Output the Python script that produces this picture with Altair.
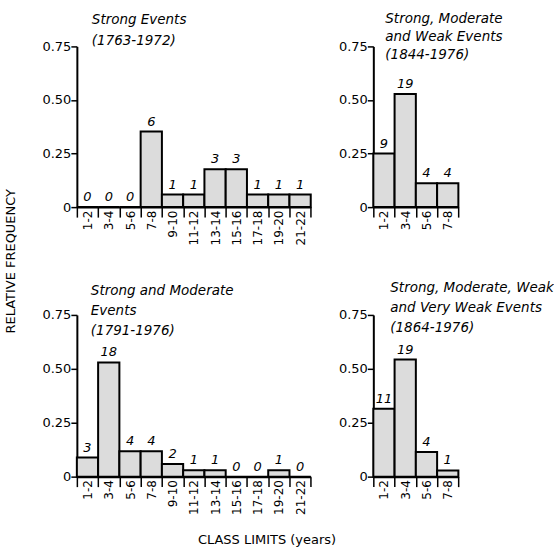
import altair as alt
import pandas as pd

# ---- data ----
classes_long = ["1-2", "3-4", "5-6", "7-8", "9-10", "11-12", "13-14",
                "15-16", "17-18", "19-20", "21-22"]
classes_short = ["1-2", "3-4", "5-6", "7-8"]

strong_counts = [0, 0, 0, 6, 1, 1, 3, 3, 1, 1, 1]
smw_counts = [9, 19, 4, 4]
sm_counts = [3, 18, 4, 4, 2, 1, 1, 0, 0, 1, 0]
smwv_counts = [11, 19, 4, 1]

titles = [
    ["Strong Events", "(1763-1972)"],
    ["Strong, Moderate", "and Weak Events", "(1844-1976)"],
    ["Strong and Moderate", "Events", "(1791-1976)"],
    ["Strong, Moderate, Weak", "and Very Weak Events", "(1864-1976)"],
]

y_ticks = [0, 0.25, 0.5, 0.75]

FONT = "DejaVu Sans"
BW = 21.3  # pixel width of one class


def panel(classes, counts, title_lines, dx, offset, height, line_h, xtitle=None):
    n = len(classes)
    total = sum(counts)
    df = pd.DataFrame({
        "cls": classes,
        "count": counts,
        "start": list(range(n)),
        "end": list(range(1, n + 1)),
    })
    df["rel"] = df["count"] / total
    df["base"] = 0.0
    arr = "[" + ",".join("'" + c + "'" for c in classes) + "]"
    label_expr = f"datum.value < {n} ? {arr}[datum.value] : ''"

    xaxis_kwargs = dict(
        values=list(range(n + 1)),
        labelExpr=label_expr,
        labelOffset=BW / 2,
        labelAngle=270,
        labelAlign="right",
        labelBaseline="middle",
        labelFlush=False,
        labelOverlap=False,
        labelBound=False,
        labelSeparation=0,
        labelPadding=-7,
        labelFontSize=12,
        labelFont=FONT,
        labelColor="black",
        tickSize=10,
        tickWidth=1.5,
        tickColor="black",
        domainColor="black",
        domainWidth=2,
        grid=False,
    )
    if xtitle:
        xaxis_kwargs.update(
            title=xtitle,
            titleX=190,
            titleY=63,
            titleAlign="center",
            titleBaseline="middle",
            titleFont=FONT,
            titleFontSize=13,
            titleFontWeight="normal",
            titleColor="black",
        )
    else:
        xaxis_kwargs.update(title=None)

    xaxis = alt.Axis(**xaxis_kwargs)
    yaxis = alt.Axis(
        values=y_ticks,
        labelExpr="datum.value == 0 ? '0' : format(datum.value, '.2f')",
        title=None,
        grid=False,
        tickSize=6,
        tickWidth=1.5,
        tickColor="black",
        domainColor="black",
        domainWidth=2,
        labelFontSize=13,
        labelFont=FONT,
        labelColor="black",
        labelPadding=0,
    )
    xscale = alt.Scale(domain=[0, n], nice=False, zero=False)
    yscale = alt.Scale(domain=[0, 0.75], nice=False)

    base = alt.Chart(df)
    bars = base.mark_bar(fill="#dcdcdc", stroke="black", strokeWidth=2).encode(
        x=alt.X("start:Q", scale=xscale, axis=xaxis),
        x2="end:Q",
        y=alt.Y("rel:Q", scale=yscale, axis=yaxis),
        y2="base:Q",
    )
    text = base.mark_text(
        baseline="bottom", dx=BW / 2, dy=-3, fontStyle="italic", fontSize=13,
        font=FONT, color="black"
    ).encode(
        x=alt.X("start:Q", scale=xscale, axis=xaxis),
        y=alt.Y("rel:Q", scale=yscale, axis=yaxis),
        text="count:Q",
    )
    return alt.layer(bars, text).properties(
        width=n * BW,
        height=height,
        title=alt.TitleParams(
            text=title_lines,
            anchor="start",
            frame="group",
            dx=dx,
            offset=offset,
            font=FONT,
            fontSize=13.5,
            fontStyle="italic",
            fontWeight="normal",
            lineHeight=line_h,
            color="black",
        ),
    )


p1 = panel(classes_long, strong_counts, titles[0], 15, -7, 161, 21)
p2 = panel(classes_short, smw_counts, titles[1], 12, -21, 161, 18)
p3 = panel(classes_long, sm_counts, titles[2], 14, -29, 162, 20,
           xtitle="CLASS  LIMITS  (years)")
p4 = panel(classes_short, smwv_counts, titles[3], 17, -26, 162, 20)

chart = alt.concat(
    p1, p2, p3, p4,
    columns=2,
    spacing={"row": 108, "column": 62},
    bounds="flush",
    title=alt.TitleParams(
        text="RELATIVE   FREQUENCY",
        orient="left",
        anchor="middle",
        font=FONT,
        fontSize=13,
        fontWeight="normal",
        color="black",
        offset=24,
        dx=18,
    ),
).configure_view(strokeWidth=0).configure_axis(labelOverlap=False).properties(
    background="white",
    padding={"left": 5, "right": 0, "top": 11, "bottom": 0},
)

chart.save("out.html", embed_options={"renderer": "svg", "actions": False})
